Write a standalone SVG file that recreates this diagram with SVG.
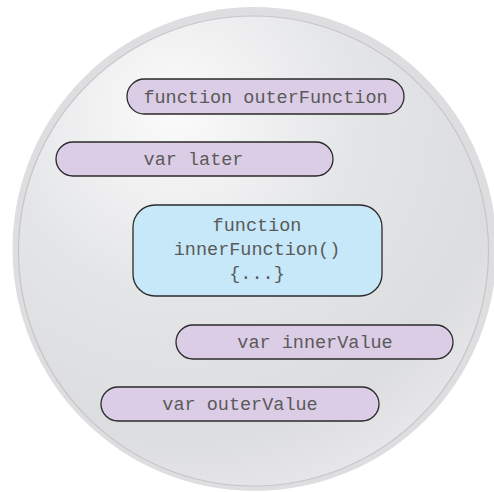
<svg xmlns="http://www.w3.org/2000/svg" width="494" height="492" viewBox="0 0 494 492">
<defs>
<radialGradient id="bg" cx="0.35" cy="0.22" r="0.85" fx="0.33" fy="0.2">
<stop offset="0" stop-color="#fbfbfb"/>
<stop offset="0.45" stop-color="#e4e5e7"/>
<stop offset="0.8" stop-color="#dcdddf"/>
<stop offset="1" stop-color="#e9e9eb"/>
</radialGradient>
<style>
.pill{fill:#dccde6;stroke:#2a2a2a;stroke-width:1.3}
.box{fill:#c6e8f8;stroke:#2a2a2a;stroke-width:1.3}
.t{font-family:"Liberation Mono","Courier New",monospace;font-size:18.5px;fill:#5a5a5a;text-anchor:middle}
</style>
</defs>
<rect width="494" height="492" fill="#ffffff"/>
<circle cx="254.5" cy="249" r="242" fill="#dedee0"/>
<circle cx="253.5" cy="251" r="235" fill="url(#bg)" stroke="#c6c6c8" stroke-width="1.2"/>
<g id="outerFunction">
<rect class="pill" x="127" y="79" width="277" height="35" rx="17.5"/>
<text class="t" x="265.5" y="102.5">function outerFunction</text>
</g>
<g id="later">
<rect class="pill" x="56" y="142" width="277" height="34" rx="17"/>
<text class="t" x="193.5" y="165">var later</text>
</g>
<g id="innerFunction">
<rect class="box" x="133" y="205" width="249" height="91" rx="22"/>
<text class="t" x="257" y="231">function</text>
<text class="t" x="257" y="255">innerFunction()</text>
<text class="t" x="257" y="279">{...}</text>
</g>
<g id="innerValue">
<rect class="pill" x="176" y="325" width="277" height="34" rx="17"/>
<text class="t" x="315" y="348">var innerValue</text>
</g>
<g id="outerValue">
<rect class="pill" x="101" y="387" width="278" height="34" rx="17"/>
<text class="t" x="240" y="410">var outerValue</text>
</g>
<g id="connectors"/>
</svg>
